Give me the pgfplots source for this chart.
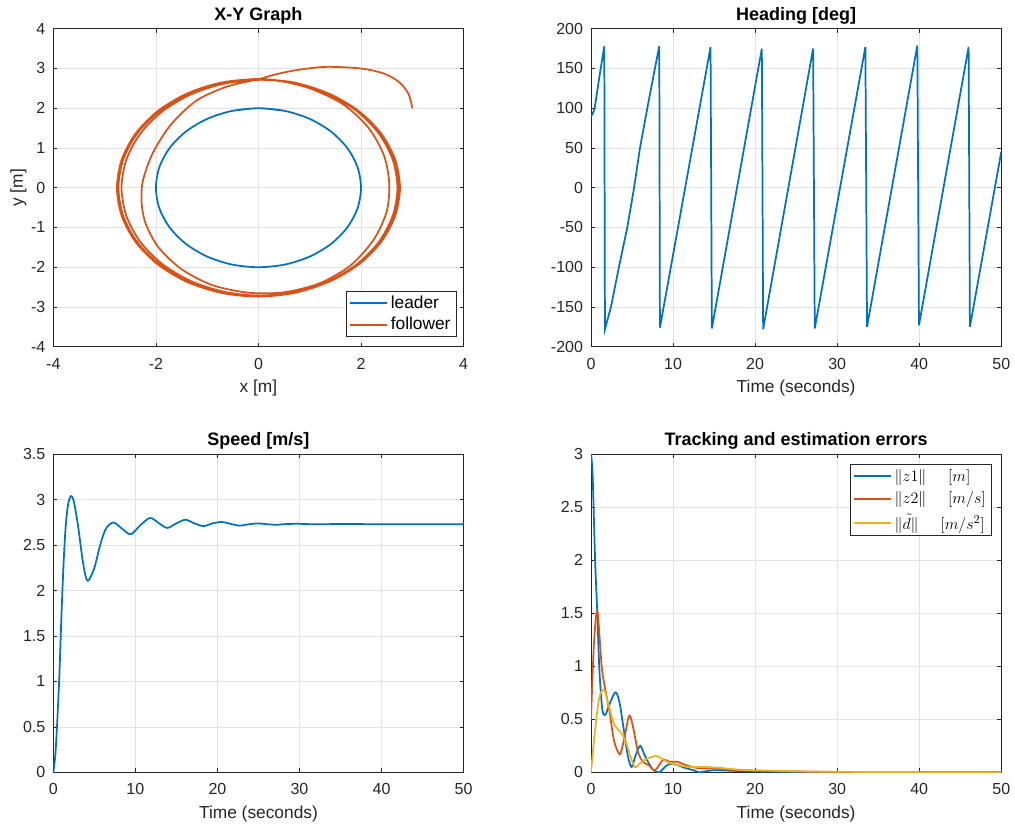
\documentclass[border=0pt]{standalone}
\usepackage[no-math]{fontspec}
\setmainfont{Liberation Sans}
\usepackage{pgfplots}
\pgfplotsset{compat=1.18}
\definecolor{mblue}{rgb}{0,0.447,0.741}
\definecolor{mred}{rgb}{0.850,0.325,0.098}
\definecolor{myel}{rgb}{0.929,0.694,0.125}
\definecolor{axc}{rgb}{0.15,0.15,0.15}
\definecolor{gridc}{rgb}{0.89,0.89,0.89}
\tikzset{lw/.style={line width=1.3pt}}
\pgfplotsset{
  mstyle/.style={
    scale only axis, width=307.7pt, height=238.5pt,
    axis line style={draw=axc, line width=0.5pt},
    tick style={draw=axc, line width=0.5pt},
    tick align=inside, major tick length=3pt,
    grid=major, major grid style={draw=gridc, line width=0.5pt},
    ticklabel style={font=\fontsize{12}{14}\selectfont, text=axc},
    xticklabel style={anchor=base, yshift=-17pt},
    yticklabel style={anchor=east, inner sep=0pt, xshift=-5.8pt},
    every axis x label/.style={at={(axis description cs:0.5,0)}, anchor=base, yshift=-34.3pt, font=\fontsize{13}{15}\selectfont, text=axc},
    every axis y label/.style={at={(axis description cs:-0.074,0.5)}, rotate=90, anchor=base, font=\fontsize{13}{15}\selectfont, text=axc},
    every axis title/.style={at={(axis description cs:0.5,1)}, anchor=base, yshift=6.5pt, font=\bfseries\fontsize{13.5}{15}\selectfont, text=black},
    /pgf/number format/assume math mode=true,
    legend image code/.code={\draw[#1, line width=1.6pt] (0pt,0pt) -- (27.5pt,0pt);},
    legend cell align=left,
  }
}
\begin{document}
\begin{tikzpicture}
\path[use as bounding box] (0,0) rectangle (761.25pt,618.75pt);

% ---------------- X-Y Graph
\begin{axis}[mstyle, at={(40pt,358.7pt)}, anchor=south west,
  xmin=-4, xmax=4, ymin=-4, ymax=4,
  xtick={-4,-2,0,2,4}, ytick={-4,-3,-2,-1,0,1,2,3,4},
  title={X-Y Graph}, xlabel={x [m]}, ylabel={y [m]},
  legend style={at={(axis description cs:0.982,0.031)}, anchor=south east, draw=axc, line width=0.5pt,
    font=\fontsize{13}{15}\selectfont, row sep=1.2pt, inner xsep=2pt, inner ysep=1.5pt},
]
\addplot[mblue, lw, smooth] coordinates {
(0.518,1.932)(0,2)
(-0.518,1.932)(-1,1.732)(-1.414,1.414)(-1.732,1)(-1.932,0.518)(-2,0)
(-1.932,-0.518)(-1.732,-1)(-1.414,-1.414)(-1,-1.732)(-0.518,-1.932)(0,-2)
(0.518,-1.932)(1,-1.732)(1.414,-1.414)(1.732,-1)(1.932,-0.518)(2,0)
(1.932,0.518)(1.732,1)(1.414,1.414)(1,1.732)(0.518,1.932)(0,2)(-0.518,1.932)};
\addlegendentry{leader}
\addplot[mred, lw, smooth] coordinates {
(3.0,2.0)(2.93,2.35)(2.75,2.65)(2.45,2.87)(2.0,3.0)(1.3,3.04)(0.7,2.95)(0.3,2.84)(0,2.73)
(-0.6,2.55)(-1.2,2.2)(-1.7,1.6)(-2.05,0.9)(-2.25,0.2)(-2.28,-0.35)(-2.2,-0.9)(-1.95,-1.5)
(-1.5,-2.05)(-0.9,-2.45)(-0.2,-2.64)(0.5,-2.63)(1.2,-2.4)(1.8,-1.95)(2.25,-1.3)(2.5,-0.6)
(2.55,0.1)(2.45,0.8)(2.15,1.5)(1.65,2.1)(1.0,2.5)(0.4,2.69)(0.045,2.715)
(-0.658,2.622)(-1.313,2.351)(-1.875,1.920)(-2.306,1.358)(-2.577,0.703)(-2.670,0)
(-2.577,-0.703)(-2.306,-1.358)(-1.875,-1.920)(-1.313,-2.351)(-0.658,-2.622)(0.045,-2.715)
(0.748,-2.622)(1.403,-2.351)(1.965,-1.920)(2.396,-1.358)(2.667,-0.703)(2.760,0)
(2.667,0.703)(2.396,1.358)(1.965,1.920)(1.403,2.351)(0.748,2.622)(0.045,2.715)
(-0.733,2.642)(-1.393,2.369)(-1.959,1.934)(-2.394,1.368)(-2.667,0.708)(-2.760,0)
(-2.667,-0.708)(-2.394,-1.368)(-1.959,-1.934)(-1.393,-2.369)(-0.733,-2.642)(-0.025,-2.735)
(0.683,-2.642)(1.343,-2.369)(1.909,-1.934)(2.344,-1.368)(2.617,-0.708)(2.710,0)
(2.617,0.708)(2.344,1.368)(1.909,1.934)(1.343,2.369)(0.683,2.642)(-0.025,2.735)
(-0.707,2.637)(-1.365,2.364)(-1.930,1.930)(-2.364,1.365)(-2.637,0.707)(-2.73,0)
(-2.637,-0.707)(-2.364,-1.365)(-1.930,-1.930)(-1.365,-2.364)(-0.707,-2.637)(0,-2.73)
(0.707,-2.637)(1.365,-2.364)(1.930,-1.930)(2.364,-1.365)(2.637,-0.707)(2.73,0)
(2.637,0.707)(2.364,1.365)(1.930,1.930)(1.365,2.364)(0.707,2.637)(0,2.73)
(-0.719,2.647)(-1.380,2.373)(-1.947,1.937)(-2.383,1.370)(-2.657,0.709)(-2.750,0)
(-2.657,-0.709)(-2.383,-1.370)(-1.947,-1.937)(-1.380,-2.373)(-0.719,-2.647)(-0.01,-2.74)
(0.699,-2.647)(1.360,-2.373)(1.927,-1.937)(2.363,-1.370)(2.637,-0.709)(2.730,0)
(2.637,0.709)(2.363,1.370)(1.927,1.937)(1.360,2.373)(0.699,2.647)(-0.01,2.74)};
\addlegendentry{follower}
\end{axis}

% ---------------- Heading
\begin{axis}[mstyle, at={(443.25pt,358.7pt)}, anchor=south west,
  xmin=0, xmax=50, ymin=-200, ymax=200,
  xtick={0,10,...,50}, ytick={-200,-150,...,200},
  title={Heading [deg]}, xlabel={Time (seconds)},
]
\addplot[mblue, lw] coordinates {
(0,90)(0.2,93)(0.45,100)(1.0,138)(1.62,178)(1.70,-178)(2.43,-150)(3.4,-100)(4.42,-50)
(5.25,0)(5.97,50)(6.86,100)(7.6,140)(8.32,178)(8.40,-176)(14.57,177)(14.73,-177)
(20.82,175)(20.98,-178)(27.07,175)(27.27,-177)(33.44,177)(33.64,-175)(39.77,179)
(39.97,-173)(46.02,177)(46.18,-175)(50,45)};
\end{axis}

% ---------------- Speed
\begin{axis}[mstyle, at={(40pt,39.5pt)}, anchor=south west,
  xmin=0, xmax=50, ymin=0, ymax=3.5,
  xtick={0,10,...,50}, ytick={0,0.5,...,3.5},
  title={Speed [m/s]}, xlabel={Time (seconds)},
]
\addplot[mblue, lw, smooth] coordinates {
(0,0)(0.25,0.2)(0.5,0.6)(0.75,1.1)(1.0,1.75)(1.25,2.3)(1.5,2.7)(1.8,2.95)(2.15,3.04)
(2.5,2.98)(3.0,2.72)(3.5,2.38)(3.9,2.17)(4.27,2.11)(5.0,2.25)(5.7,2.5)(6.4,2.68)(7.32,2.75)
(8.4,2.68)(9.43,2.62)(10.6,2.72)(11.8,2.80)(12.9,2.74)(13.9,2.69)(15.0,2.74)(16.1,2.78)
(17.2,2.74)(18.3,2.71)(19.4,2.74)(20.5,2.755)(21.6,2.735)(22.7,2.715)(23.8,2.73)(25.0,2.74)
(26.1,2.73)(27.2,2.725)(28.5,2.733)(30,2.735)(32,2.73)(35,2.733)(40,2.731)(45,2.731)(50,2.731)};
\end{axis}

% ---------------- Tracking errors
\begin{axis}[mstyle, at={(443.25pt,39.5pt)}, anchor=south west,
  xmin=0, xmax=50, ymin=0, ymax=3,
  xtick={0,10,...,50}, ytick={0,0.5,...,3},
  title={Tracking and estimation errors}, xlabel={Time (seconds)},
  legend style={at={(axis description cs:0.976,0.969)}, anchor=north east, draw=axc, line width=0.5pt,
    font=\fontsize{13}{15}\selectfont, row sep=2.4pt, inner xsep=2pt, inner ysep=1.5pt},
]
\addplot[mblue, lw, smooth, tension=0.5] coordinates {
(0,3)(0.2,2.8)(0.5,2.0)(0.77,1.5)(1.0,1.0)(1.3,0.65)(1.5,0.55)(1.8,0.55)(2.3,0.65)(2.8,0.74)
(3.1,0.75)(3.5,0.65)(4.0,0.4)(4.5,0.15)(4.95,0.05)(5.4,0.15)(6.0,0.25)(6.6,0.15)(7.5,0.03)
(8.3,0.0)(9.0,0.05)(9.6,0.08)(10.5,0.07)(11.5,0.04)(12.5,0.02)(13.2,0.0)(14,0.01)(15,0.02)
(17,0.015)(20,0.008)(25,0.004)(30,0.002)(40,0.001)(50,0.0)};
\addlegendentry{$\|z1\|\quad\;[m]$}
\addplot[mred, lw, smooth, tension=0.5] coordinates {
(0,0.5)(0.35,1.2)(0.77,1.52)(1.3,1.0)(1.7,0.8)(2.3,0.55)(2.8,0.3)(3.5,0.17)(4.0,0.3)(4.67,0.535)
(5.2,0.4)(5.7,0.2)(6.3,0.1)(7.0,0.07)(7.8,0.02)(8.8,0.12)(9.5,0.1)(10.5,0.1)(11.5,0.07)(13,0.04)
(15,0.035)(17,0.025)(20,0.015)(25,0.008)(30,0.004)(40,0.002)(50,0.001)};
\addlegendentry{$\|z2\|\quad\;[m/s]$}
\addplot[myel, lw, smooth, tension=0.5] coordinates {
(0,0)(0.5,0.4)(1.0,0.7)(1.58,0.78)(2.2,0.62)(2.6,0.5)(3.0,0.43)(3.6,0.38)(4.2,0.3)(4.8,0.15)
(5.35,0.05)(5.9,0.08)(6.6,0.12)(7.9,0.155)(8.6,0.13)(9.5,0.09)(10.5,0.07)(12,0.05)(14,0.05)
(16,0.04)(18,0.025)(20,0.02)(25,0.01)(30,0.005)(40,0.002)(50,0)};
\addlegendentry{$\|\tilde{d}\|\quad\;[m/s^2]$}
\end{axis}
\end{tikzpicture}
\end{document}
